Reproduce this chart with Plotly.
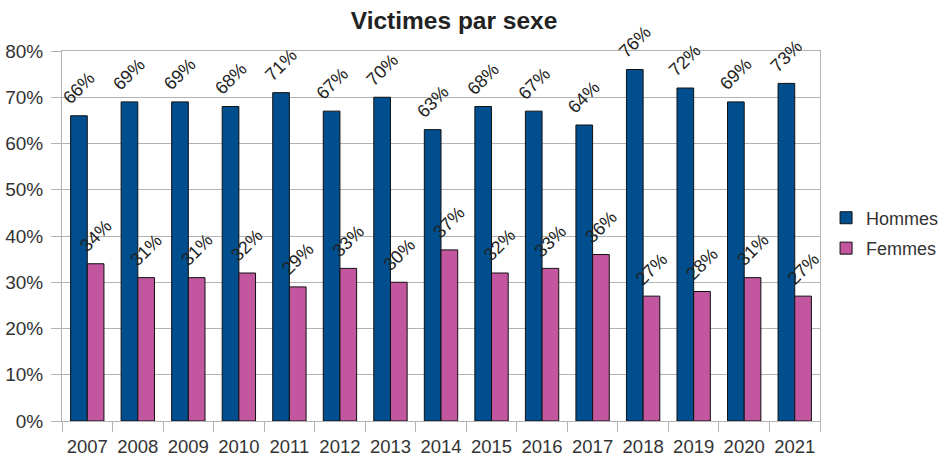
import plotly.graph_objects as go

years = ['2007', '2008', '2009', '2010', '2011', '2012', '2013', '2014',
         '2015', '2016', '2017', '2018', '2019', '2020', '2021']
hommes = [66, 69, 69, 68, 71, 67, 70, 63, 68, 67, 64, 76, 72, 69, 73]
femmes = [34, 31, 31, 32, 29, 33, 30, 37, 32, 33, 36, 27, 28, 31, 27]

BARGAP = 0.34
half = (1 - BARGAP) / 4  # centre offset of each bar in its group

fig = go.Figure()
fig.add_trace(go.Bar(x=years, y=[v / 100 for v in hommes], name='Hommes',
                     legendgroup='h',
                     marker=dict(color='#004e8e', line=dict(color='#111111', width=1))))
fig.add_trace(go.Bar(x=years, y=[v / 100 for v in femmes], name='Femmes',
                     legendgroup='f',
                     marker=dict(color='#c2569f', line=dict(color='#111111', width=1))))

# rotated value labels (plotly would shrink bar text to bar width)
for i, (h, f) in enumerate(zip(hommes, femmes)):
    for off, v in ((-half, h), (half, f)):
        fig.add_annotation(x=i + off, y=v / 100, xref='x', yref='y',
                           text=f'{v}%', textangle=-45, showarrow=False,
                           xanchor='center', yanchor='bottom', yshift=5,
                           font=dict(size=18, color='#222222'))

fig.update_layout(
    width=942, height=458, autosize=False,
    title=dict(text='<b>Victimes par sexe</b>', x=0.482, xanchor='center',
               y=0.955, yanchor='middle', font=dict(size=24.5, color='#222222')),
    font=dict(family='Liberation Sans', size=18, color='#333333'),
    barmode='group', bargap=BARGAP, bargroupgap=0,
    plot_bgcolor='white', paper_bgcolor='white',
    margin=dict(l=62, r=122, t=51, b=37, autoexpand=False),
    legend=dict(x=1.008, y=0.508, yanchor='middle', font=dict(size=18),
                traceorder='grouped', tracegroupgap=4, itemwidth=30),
)
fig.update_xaxes(range=[-0.5, len(years) - 0.5],
                 showline=True, linecolor='#b3b3b3', mirror=True, ticks='outside',
                 tickson='boundaries', tickcolor='#b3b3b3', ticklen=10, tickangle=0,
                 ticklabelstandoff=9, showgrid=False, tickfont=dict(size=18.5))
fig.update_yaxes(range=[0, 0.8], dtick=0.1, tickformat='.0%', showgrid=True,
                 gridcolor='#b3b3b3', showline=True, linecolor='#b3b3b3', mirror=True,
                 ticks='outside', tickcolor='#b3b3b3', ticklen=10, zeroline=False,
                 ticklabelstandoff=4, tickfont=dict(size=19))

fig.write_html("out.html", config={'displayModeBar': False},
               post_script="document.body.style.margin='0';")
